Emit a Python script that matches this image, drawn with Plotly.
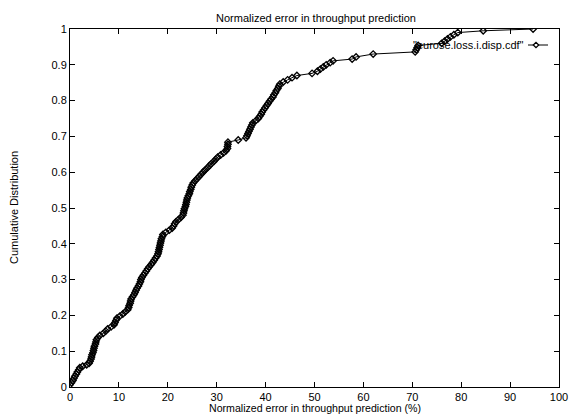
import plotly.graph_objects as go

# Normalized error (%)
err = [0.0, 0.3, 0.6, 0.8, 1.0, 1.3, 1.5, 1.8, 2.0, 2.6, 3.4, 3.9,
       4.1, 4.3, 4.4, 4.5, 4.7, 4.8, 4.9, 5.0, 5.2, 5.3, 5.4, 5.7, 6.1,
       6.8, 7.3, 7.7, 8.4, 9.0, 9.2, 9.4, 9.6, 10.2, 10.8, 11.3, 11.8,
       12.0, 12.1, 12.3, 12.4, 12.5, 12.8, 13.1, 13.3, 13.5, 13.7,
       14.0, 14.2, 14.4, 14.5, 14.7, 15.0, 15.3, 15.6, 15.9, 16.2,
       16.6, 16.9, 17.2, 17.5, 17.8, 18.0, 18.1, 18.2, 18.3, 18.4, 18.5,
       18.6, 18.7, 18.9, 19.0, 19.6, 20.3, 20.9, 21.2, 21.4, 21.7,
       22.2, 22.7, 23.1, 23.2, 23.3, 23.4, 23.6, 23.7, 23.8, 23.9, 24.0,
       24.2, 24.4, 24.5, 24.7, 24.8, 25.0, 25.2, 25.6, 26.0, 26.4, 26.8,
       27.2, 27.6, 28.1, 28.5, 28.9, 29.4, 29.8, 30.2, 30.8, 31.4, 31.9,
       32.2, 32.2, 32.3, 32.3, 34.4, 36.0, 36.2, 36.4, 36.6, 36.8, 37.0,
       37.2, 37.4, 38.0, 38.5, 38.8, 39.1, 39.3, 39.6, 39.9, 40.2, 40.5,
       40.8, 41.1, 41.5, 41.7, 42.0, 42.2, 42.5, 42.7, 42.9, 43.6, 44.5,
       45.4, 46.4, 49.5, 50.6, 51.2, 51.8, 52.4, 53.2, 53.8, 57.7, 58.5,
       62.0, 70.6, 70.8, 71.0, 71.2, 76.0, 76.6, 77.2, 77.8, 78.5, 79.3,
       84.5, 94.7]

# Cumulative distribution values
cdf = [0.006, 0.012, 0.018, 0.024, 0.030, 0.036, 0.042, 0.048, 0.054, 0.058, 0.062, 0.066,
       0.072, 0.078, 0.084, 0.090, 0.096, 0.102, 0.108, 0.114, 0.120, 0.126, 0.132, 0.138, 0.144,
       0.150, 0.156, 0.162, 0.168, 0.174, 0.180, 0.186, 0.192, 0.198, 0.204, 0.210, 0.216,
       0.222, 0.228, 0.234, 0.240, 0.246, 0.252, 0.258, 0.264, 0.270, 0.276,
       0.282, 0.288, 0.294, 0.300, 0.306, 0.312, 0.318, 0.324, 0.330, 0.336,
       0.342, 0.348, 0.354, 0.360, 0.366, 0.372, 0.378, 0.384, 0.390, 0.396, 0.402,
       0.408, 0.414, 0.420, 0.426, 0.432, 0.438, 0.444, 0.450, 0.456, 0.462,
       0.468, 0.474, 0.480, 0.486, 0.492, 0.498, 0.504, 0.510, 0.516, 0.522, 0.528,
       0.534, 0.540, 0.546, 0.552, 0.558, 0.564, 0.570, 0.576, 0.582, 0.588, 0.594,
       0.600, 0.606, 0.612, 0.618, 0.624, 0.630, 0.636, 0.642, 0.648, 0.654, 0.660,
       0.666, 0.672, 0.678, 0.684, 0.690, 0.696, 0.702, 0.708, 0.714, 0.720, 0.726,
       0.732, 0.738, 0.744, 0.750, 0.756, 0.762, 0.768, 0.774, 0.780, 0.786, 0.792,
       0.798, 0.804, 0.810, 0.816, 0.822, 0.828, 0.834, 0.840, 0.846, 0.852, 0.858,
       0.864, 0.870, 0.876, 0.882, 0.888, 0.894, 0.900, 0.906, 0.911, 0.916, 0.922,
       0.930, 0.936, 0.942, 0.948, 0.954, 0.960, 0.966, 0.972, 0.978, 0.984, 0.990,
       0.995, 1.000]

series_name = '"eurose.loss.i.disp.cdf"'
x_ticks = [0, 10, 20, 30, 40, 50, 60, 70, 80, 90, 100]
y_ticks = [0, 0.1, 0.2, 0.3, 0.4, 0.5, 0.6, 0.7, 0.8, 0.9, 1]
y_tick_text = ["0", "0.1", "0.2", "0.3", "0.4", "0.5", "0.6", "0.7", "0.8", "0.9", "1"]

FONT = "Liberation Sans, Arial, Helvetica, sans-serif"
FS = 11
W, H = 569, 414
ML, MR, MT, MB = 70, 10, 29, 27

fig = go.Figure()
fig.add_trace(go.Scatter(
    x=err, y=cdf, mode="lines+markers", name=series_name, showlegend=False,
    line=dict(color="black", width=1),
    marker=dict(symbol="diamond-open", size=5, color="black", line=dict(width=1.3, color="black")),
))

axis_common = dict(
    showgrid=False, zeroline=False, showline=True, linecolor="black", linewidth=1,
    mirror="ticks", ticks="inside", ticklen=5, tickcolor="black", tickwidth=1,
    tickfont=dict(family=FONT, size=FS, color="black"),
)
fig.update_xaxes(range=[0, 100], tickvals=x_ticks, **axis_common)
fig.update_yaxes(range=[0, 1], tickvals=y_ticks, ticktext=y_tick_text, **axis_common)

pw = W - ML - MR
ph = H - MT - MB
def px_to_paper_x(p):
    return (p - ML) / pw
def px_to_paper_y(p):
    return (H - MB - p) / ph

# legend (gnuplot style: text on the left, sample on the right)
ly = px_to_paper_y(45)
fig.add_annotation(x=px_to_paper_x(526), y=ly, xref="paper", yref="paper",
                   text=series_name, showarrow=False, xanchor="right", yanchor="middle",
                   font=dict(family=FONT, size=FS, color="black"))
fig.add_shape(type="line", xref="paper", yref="paper",
              x0=px_to_paper_x(528), x1=px_to_paper_x(548), y0=ly, y1=ly,
              line=dict(color="black", width=1))
cx, cy, d = 536, 45, 2.7
path = "M {} {} L {} {} L {} {} L {} {} Z".format(
    px_to_paper_x(cx - d), ly, px_to_paper_x(cx), px_to_paper_y(cy - d),
    px_to_paper_x(cx + d), ly, px_to_paper_x(cx), px_to_paper_y(cy + d))
fig.add_shape(type="path", xref="paper", yref="paper", path=path,
              line=dict(color="black", width=1.3), fillcolor="white")

fig.update_layout(
    width=W, height=H, margin=dict(l=ML, r=MR, t=MT, b=MB, autoexpand=False),
    paper_bgcolor="white", plot_bgcolor="white",
    font=dict(family=FONT, size=FS, color="black"),
    title=dict(text="Normalized error in throughput prediction", x=316 / W, xanchor="center",
               y=1 - 18 / H, yanchor="middle", font=dict(family=FONT, size=FS, color="black")),
    showlegend=False,
)
fig.add_annotation(x=px_to_paper_x(315), y=px_to_paper_y(408), xref="paper", yref="paper",
                   text="Normalized error in throughput prediction (%)", showarrow=False,
                   xanchor="center", yanchor="middle", font=dict(family=FONT, size=10.6, color="black"))
fig.add_annotation(x=-(ML - 14) / pw, y=0.5, xref="paper", yref="paper",
                   text="Cumulative Distribution", showarrow=False, textangle=-90,
                   xanchor="center", yanchor="middle", font=dict(family=FONT, size=FS, color="black"))

fig.write_html("out.html", config={"displayModeBar": False},
               post_script="document.body.style.margin='0';document.body.style.overflow='hidden';")
